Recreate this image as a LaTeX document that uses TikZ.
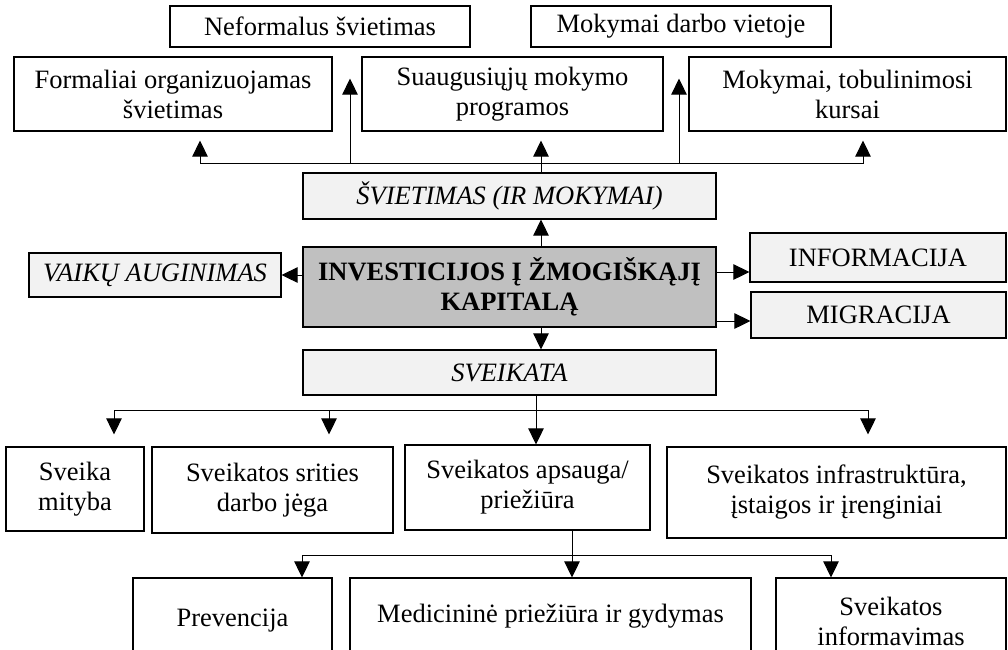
\documentclass[tikz,border=0pt]{standalone}
\usepackage{fontspec}
\setmainfont{Liberation Serif}
\usetikzlibrary{arrows.meta}
\definecolor{paleBox}{HTML}{F2F2F2}
\definecolor{coreBox}{HTML}{C0C0C0}
\begin{document}
\begin{tikzpicture}[x=1pt,y=-1pt,
  box/.style={draw, line width=1.2pt, align=center, inner sep=2pt,
              font=\fontsize{26.5}{30}\selectfont},
  pale/.style={box, fill=paleBox},
  core/.style={box, fill=coreBox, font=\fontsize{26.5}{30}\selectfont\bfseries},
  arr/.style={line width=1pt, -{Triangle[width=15.5pt,length=16pt]}}]
\useasboundingbox (0,0) rectangle (1008,649);
\clip (0,0) rectangle (1008,649);

% --- education branch ---
\node[box, minimum width=300pt, minimum height=41pt] (nef) at (320,26.5) {Neformalus švietimas};
\node[box, minimum width=300pt, minimum height=41pt] (mdv) at (681,26.5) {Mokymai darbo vietoje};
\node[box, minimum width=318pt, minimum height=74pt] (form) at (173,94) {Formaliai organizuojamas\\švietimas};
\node[box, minimum width=301pt, minimum height=74pt] (suaug) at (512.5,94) {Suaugusiųjų mokymo\\programos};
\node[box, minimum width=317pt, minimum height=74pt] (mtk) at (847.5,94) {Mokymai, tobulinimosi\\kursai};
\node[pale, minimum width=413pt, minimum height=46pt, font=\fontsize{26.5}{30}\selectfont\itshape] (svi) at (509.5,196) {ŠVIETIMAS (IR MOKYMAI)};

% --- core and side branches ---
\node[core, minimum width=413pt, minimum height=80pt] (main) at (509.5,287) {INVESTICIJOS Į ŽMOGIŠKĄJĮ\\KAPITALĄ};
\node[pale, minimum width=252pt, minimum height=44pt, font=\fontsize{26.5}{30}\selectfont\itshape] (vaik) at (155,275) {VAIKŲ AUGINIMAS};
\node[pale, minimum width=256pt, minimum height=49pt] (info) at (878,257.5) {INFORMACIJA};
\node[pale, minimum width=255pt, minimum height=46pt] (migr) at (878.5,315) {MIGRACIJA};

% --- health branch ---
\node[pale, minimum width=413pt, minimum height=45pt, font=\fontsize{26.5}{30}\selectfont\itshape] (svk) at (509.5,372.5) {SVEIKATA};
\node[box, minimum width=138pt, minimum height=84pt] (mit) at (75,489) {Sveika\\mityba};
\node[box, minimum width=241pt, minimum height=86pt] (dj) at (272.5,490) {Sveikatos srities\\darbo jėga};
\node[box, minimum width=245pt, minimum height=85pt] (aps) at (527.5,487.5) {Sveikatos apsauga/\\priežiūra};
\node[box, minimum width=339pt, minimum height=91pt] (infr) at (836.5,492.5) {Sveikatos infrastruktūra,\\įstaigos ir įrenginiai};
\node[box, minimum width=199pt, minimum height=86pt] (prev) at (232.5,621) {Prevencija};
\node[box, minimum width=401pt, minimum height=86pt, text depth=16pt] (med) at (550.5,621) {Medicininė priežiūra ir gydymas};
\node[box, minimum width=230pt, minimum height=86pt] (sinf) at (891,621) {Sveikatos\\informavimas};

% --- education connectors ---
\coordinate (tb) at (541,163);
\coordinate (tbL) at (200,163);
\coordinate (tbR) at (863,163);
\coordinate (tn) at (350,163);
\coordinate (tm) at (679,163);
\draw[arr] (main.north -| tb) -- (svi.south -| tb);
\draw[arr, shorten >=9pt] (svi.north -| tb) -- (suaug.south -| tb);
\draw[arr, shorten >=9pt] (tb) -| (form.south -| tbL);
\draw[arr, shorten >=9pt] (tb) -| (mtk.south -| tbR);
\draw[arr, shorten >=31pt] (tn) -- (nef.south -| tn);
\draw[arr, shorten >=31pt] (tm) -- (mdv.south -| tm);

% --- side connectors ---
\coordinate (ia) at ([yshift=-14.5pt]info.west);
\coordinate (ma) at ([yshift=-6pt]migr.west);
\draw[arr] (main.west |- vaik) -- (vaik.east);
\draw[arr] (main.east |- ia) -- (ia);
\draw[arr] (main.east |- ma) -- (ma);
\draw[arr] (main.south -| tb) -- (svk.north -| tb);

% --- health connectors ---
\coordinate (sb) at (536,410);
\coordinate (sbL) at (114,410);
\coordinate (sbM) at (329,410);
\coordinate (sbR) at (868,410);
\draw[arr] (svk.south -| sb) -- (aps.north -| sb);
\draw[arr, shorten >=12pt] (sb) -| (mit.north -| sbL);
\draw[arr, shorten >=12pt] (sb) -| (infr.north -| sbR);
\draw[arr, shorten >=12pt] (sbM) -- (dj.north -| sbM);

\coordinate (ab) at (572,555);
\coordinate (abL) at (302,555);
\coordinate (abR) at (831,555);
\draw[arr] (aps.south -| ab) -- (med.north -| ab);
\draw[arr] (ab) -| (prev.north -| abL);
\draw[arr] (ab) -| (sinf.north -| abR);
\end{tikzpicture}
\end{document}
